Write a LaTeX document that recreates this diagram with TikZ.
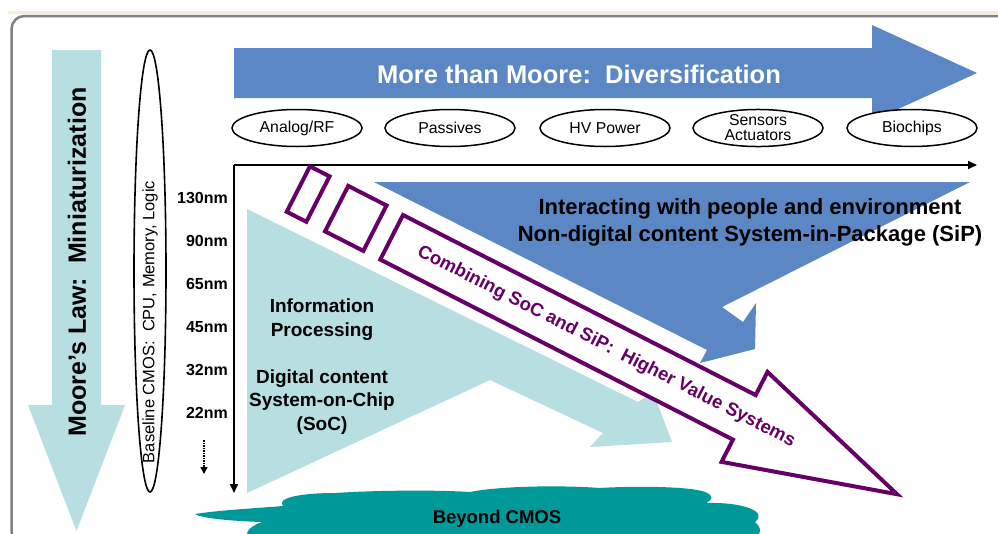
\documentclass[tikz,border=0pt]{standalone}
\usepackage{fontspec}
\setmainfont{Liberation Sans}
\usetikzlibrary{arrows.meta,shapes.geometric}
\definecolor{lblue}{RGB}{183,222,224}
\definecolor{dblue}{RGB}{91,135,197}
\definecolor{tealc}{RGB}{0,153,153}
\definecolor{purp}{RGB}{102,0,102}
\definecolor{framegray}{RGB}{128,128,128}
\definecolor{beige}{RGB}{252,236,210}
\newcommand\fsz[2]{\fontsize{#1}{#2}\selectfont}
\begin{document}
\begin{tikzpicture}[x=1pt,y=-1pt,
  tagell/.style={draw=black,line width=1.5pt,fill=white,ellipse,minimum width=130pt,minimum height=37pt,inner sep=0pt,font=\fsz{15.8}{17},align=center},
  nmlabel/.style={anchor=east,inner sep=0pt,font=\bfseries\fsz{16}{18}},
  boldtxt/.style={font=\bfseries\fsz{19}{24},align=center,inner sep=0pt},
  axis/.style={line width=1.8pt,-{Triangle[length=9pt,width=8pt]}},
  purpline/.style={draw=purp,line width=4pt,line join=miter,fill=white}]
\useasboundingbox (0,0) rectangle (998,533);
\clip (0,0) rectangle (998,533);
\fill[white] (0,0) rectangle (998,533);
% top stripe and frame
\fill[beige] (8,11) rectangle (998,14);
\draw[framegray,line width=2.5pt,rounded corners=13pt] (11.5,16) rectangle (1020,545);
% Moore's law arrow
\fill[lblue] (52,50) -- (101,50) -- (101,405) -- (125,405) -- (76.5,531) -- (28,405) -- (52,405) -- cycle;
\node[rotate=90,font=\bfseries\fsz{25}{28},inner sep=0pt] (moore) at (77,262) {Moore’s Law:\ \ Miniaturization};
% baseline ellipse
\node[draw=black,line width=1.6pt,ellipse,minimum width=32pt,minimum height=442pt,inner sep=0pt] (base) at (150,271) {};
\node[rotate=90,font=\fsz{16.5}{18},inner sep=0pt] (basetxt) at (150,322) {Baseline CMOS:\ \ CPU, Memory, Logic};
% nm labels
\node[nmlabel] (n130) at (228,198) {130nm};
\node[nmlabel] (n90) at (228,241) {90nm};
\node[nmlabel] (n65) at (228,284) {65nm};
\node[nmlabel] (n45) at (228,327) {45nm};
\node[nmlabel] (n32) at (228,370) {32nm};
\node[nmlabel] (n22) at (228,413) {22nm};
\coordinate (dA) at (204,440);
\coordinate (dB) at (204,474);
\draw[line width=1.5pt,densely dotted,-{Triangle[length=7pt,width=7pt]}] (dA) -- (dB);
% top arrow
\fill[dblue] (234,48) -- (872,48) -- (872,25) -- (977,73) -- (872,121) -- (872,98) -- (234,98) -- cycle;
\node[text=white,font=\bfseries\fsz{25.5}{28},inner sep=0pt] (mtm) at (579,74) {More than Moore:\ \ Diversification};
% ellipses
\node[tagell] (analog) at (297,128) {Analog/RF};
\node[tagell] (passives) at (450,128) {Passives};
\node[tagell] (hv) at (605,128) {HV Power};
\node[tagell] (sensors) at (758,128) {Sensors\\[-2pt]Actuators};
\node[tagell] (bio) at (912,128) {Biochips};
% light blue SoC arrow
\fill[lblue] (247,209) -- (638,402) -- (653,392) -- (672,442) -- (590,447) -- (603,433) -- (490,380) -- (247,493) -- cycle;
% dark blue SiP arrow
\fill[dblue] (374,182) -- (970,182) -- (722,307) -- (743,322) -- (756,303) -- (755,349) -- (700,363) -- (707,350) -- cycle;
% axes
\coordinate (O) at (234,165);
\coordinate (Yend) at (234,493);
\coordinate (Xend) at (977,165);
\draw[axis] (O) -- (Yend);
\draw[axis] (O) -- (Xend);
% purple combining arrow
\begin{scope}[shift={(403,215)},rotate=-27.05]
\draw[purpline] (0,0) -- (396,0) -- (396,-26) -- (567,24) -- (396,75) -- (396,50) -- (0,50) -- cycle;
\draw[purpline] (-62,-1) rectangle (-19,50);
\draw[purpline] (-105,-1) rectangle (-83,50);
\node[text=purp,rotate=-27.05,font=\bfseries\fsz{18.5}{20},inner sep=0pt] (comb) at (241,25) {Combining SoC and SiP:\ \ Higher Value Systems};
\end{scope}
% texts
\node[font=\bfseries\fsz{22}{27},align=center,inner sep=0pt] (sip) at (750,222) {Interacting with people and environment\\Non-digital content System-in-Package (SiP)};
\node[boldtxt] (info) at (322,320) {Information\\Processing};
\node[boldtxt,font=\bfseries\fsz{19}{23.5}] (soc) at (322,402) {Digital content\\System-on-Chip\\(SoC)};
% cloud
\fill[tealc] (195,514) .. controls (220,510) and (260,508) .. (283,506)
 .. controls (276,498) and (300,493) .. (335,493)
 .. controls (380,490) and (440,490) .. (470,492)
 .. controls (500,486) and (560,485) .. (600,488)
 .. controls (630,486) and (690,486) .. (705,492)
 .. controls (715,496) and (712,500) .. (706,503)
 .. controls (745,502) and (768,512) .. (755,522)
 .. controls (765,530) and (760,540) .. (740,545)
 -- (255,545)
 .. controls (240,535) and (248,527) .. (262,522)
 .. controls (230,521) and (200,518) .. (195,514) -- cycle;
\node[font=\bfseries\fsz{18.5}{20},inner sep=0pt] (beyond) at (497,519) {Beyond CMOS};
\end{tikzpicture}
\end{document}
